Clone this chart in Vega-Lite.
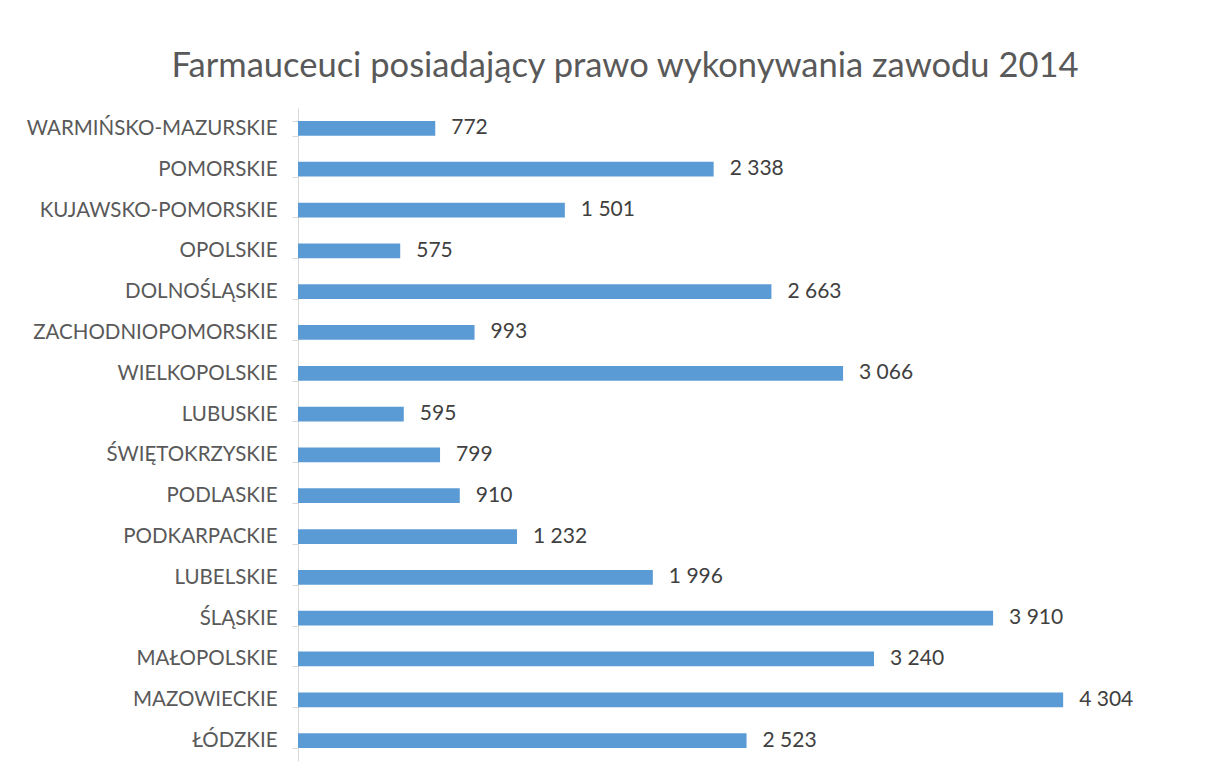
{
  "$schema": "https://vega.github.io/schema/vega-lite/v6.json",
  "width": 800,
  "height": 653,
  "autosize": {"type": "none"},
  "padding": {"left": 298, "top": 108, "right": 107, "bottom": 23},
  "background": "white",
  "title": {
    "text": "Farmauceuci posiadający prawo wykonywania zawodu 2014",
    "font": "Lato",
    "fontSize": 34.5,
    "fontWeight": "normal",
    "color": "#595959",
    "anchor": "middle",
    "frame": "group",
    "dx": -73,
    "offset": 14
  },
  "config": {
    "view": {"stroke": null},
    "locale": {"number": {"decimal": ",", "thousands": " ", "grouping": [3], "currency": ["", " zł"]}}
  },
  "data": {
    "values": [
      {"wojewodztwo": "WARMIŃSKO-MAZURSKIE", "farmaceuci": 772},
      {"wojewodztwo": "POMORSKIE", "farmaceuci": 2338},
      {"wojewodztwo": "KUJAWSKO-POMORSKIE", "farmaceuci": 1501},
      {"wojewodztwo": "OPOLSKIE", "farmaceuci": 575},
      {"wojewodztwo": "DOLNOŚLĄSKIE", "farmaceuci": 2663},
      {"wojewodztwo": "ZACHODNIOPOMORSKIE", "farmaceuci": 993},
      {"wojewodztwo": "WIELKOPOLSKIE", "farmaceuci": 3066},
      {"wojewodztwo": "LUBUSKIE", "farmaceuci": 595},
      {"wojewodztwo": "ŚWIĘTOKRZYSKIE", "farmaceuci": 799},
      {"wojewodztwo": "PODLASKIE", "farmaceuci": 910},
      {"wojewodztwo": "PODKARPACKIE", "farmaceuci": 1232},
      {"wojewodztwo": "LUBELSKIE", "farmaceuci": 1996},
      {"wojewodztwo": "ŚLĄSKIE", "farmaceuci": 3910},
      {"wojewodztwo": "MAŁOPOLSKIE", "farmaceuci": 3240},
      {"wojewodztwo": "MAZOWIECKIE", "farmaceuci": 4304},
      {"wojewodztwo": "ŁÓDZKIE", "farmaceuci": 2523}
    ]
  },
  "encoding": {
    "y": {
      "field": "wojewodztwo",
      "type": "nominal",
      "sort": null,
      "scale": {"paddingInner": 0.64, "paddingOuter": 0.32},
      "axis": {
        "title": null,
        "domainColor": "#d9d9d9",
        "tickColor": "#d9d9d9",
        "tickSize": 6,
        "tickBand": "extent",
        "labelPadding": 15,
        "labelLimit": 400,
        "labelFont": "Lato",
        "labelFontSize": 20.5,
        "labelColor": "#595959",
        "grid": false
      }
    },
    "x": {
      "field": "farmaceuci",
      "type": "quantitative",
      "scale": {"domain": [0, 4500], "nice": false},
      "axis": null
    }
  },
  "layer": [
    {"mark": {"type": "bar", "color": "#5b9bd5"}},
    {
      "mark": {"type": "text", "align": "left", "baseline": "middle", "dx": 16, "font": "Lato", "fontSize": 21, "color": "#404040"},
      "encoding": {"text": {"field": "farmaceuci", "type": "quantitative", "format": ",d"}}
    }
  ]
}
